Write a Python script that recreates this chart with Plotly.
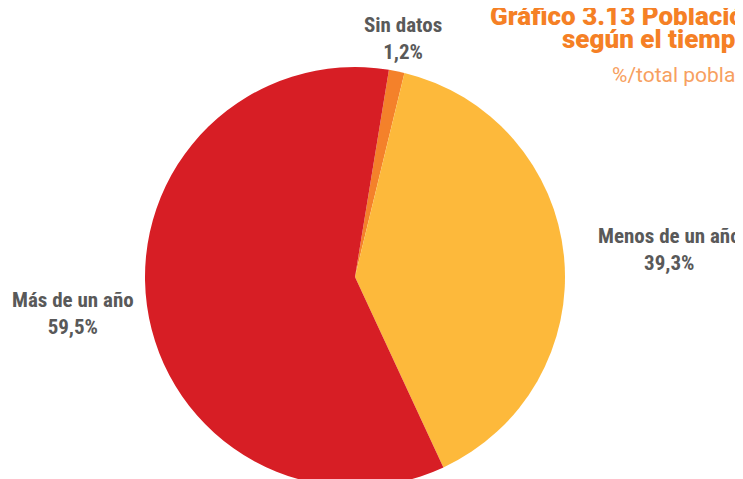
"""
Pie: población extranjera según el tiempo de residencia (%/total).
Order clockwise from the top: Sin datos, Menos de un año, Más de un año.
"""
import plotly.graph_objects as go

labels = ["Sin datos", "Menos de un año", "Más de un año"]
values = [1.2, 39.3, 59.5]
colors = ["#F4812A", "#FDB93B", "#D71E25"]

title_lines = ["Gráfico 3.13 Población", "según el tiempo", "%/total población"]

# the page body adds an 8px margin, so paper px = window px - 8
label_pos = [(394.5, 30.5), (661.5, 241.5), (64.5, 305.5)]

W, H = 743, 479
LABEL_FONT = dict(family="Roboto Condensed, Liberation Sans Narrow, sans-serif",
                  size=21, color="#595959")
TITLE = "#F58025"


def fmt_pct(v):
    return f"{v:.1f}".replace(".", ",") + "%"


def main():
    cx, cy, r = 347, 269, 210
    fig = go.Figure(
        data=[go.Pie(
            labels=labels,
            values=values,
            marker=dict(colors=colors, line=dict(width=0)),
            sort=False,
            direction="clockwise",
            rotation=9.3,
            textinfo="none",
            hoverinfo="label+percent",
            domain=dict(x=[(cx - r) / W, (cx + r) / W],
                        y=[1 - (cy + r) / H, 1 - (cy - r) / H]),
        )],
    )

    annotations = []
    for lab, val, (px, py) in zip(labels, values, label_pos):
        annotations.append(dict(
            x=px / W, y=1 - py / H, xref="paper", yref="paper",
            text=f"<b>{lab}</b><br><b>{fmt_pct(val)}</b>",
            showarrow=False, xanchor="center", yanchor="middle",
            font=LABEL_FONT, align="center",
        ))

    # title block (runs off the right edge like the source)
    title_font = dict(family="Roboto", size=26, color=TITLE, weight=900)
    annotations.append(dict(x=480 / W, y=1 + 9 / H, xref="paper", yref="paper",
                            text=title_lines[0], showarrow=False,
                            xanchor="left", yanchor="top", font=title_font))
    annotations.append(dict(x=552 / W, y=1 - 14 / H, xref="paper", yref="paper",
                            text=title_lines[1], showarrow=False,
                            xanchor="left", yanchor="top", font=title_font))
    annotations.append(dict(x=602 / W, y=1 - 53 / H, xref="paper", yref="paper",
                            text=title_lines[2], showarrow=False,
                            xanchor="left", yanchor="top",
                            font=dict(family="Roboto", size=21, color="#F7A060")))

    fig.update_layout(
        width=W, height=H,
        margin=dict(l=0, r=0, t=0, b=0),
        paper_bgcolor="white",
        showlegend=False,
        annotations=annotations,
    )
    fig.write_html("out.html")


if __name__ == "__main__":
    main()
